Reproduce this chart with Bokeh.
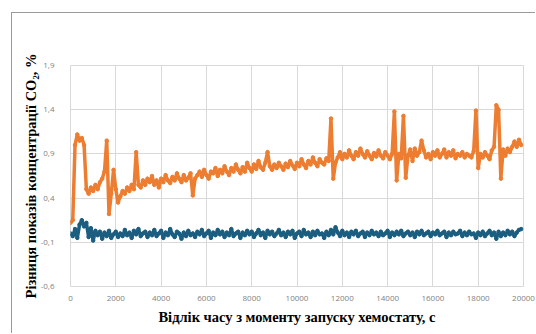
from bokeh.plotting import figure
from bokeh.models import FixedTicker, CustomJSTickFormatter, Range1d
from bokeh.embed import file_html
from bokeh.resources import INLINE

# Sampling step of the recorded series, seconds
STEP_S = 100

# Difference of CO2 readings, chemostat run (orange series), %
co2_diff_a = [
    0.12, 0.15, 1.00, 1.12, 1.05, 1.08, 1.00, 0.50, 0.45, 0.52,
    0.48, 0.55, 0.50, 0.58, 0.62, 0.70, 1.05, 0.22, 0.45, 0.72,
    0.50, 0.35, 0.42, 0.48, 0.45, 0.52, 0.48, 0.55, 0.50, 0.92,
    0.55, 0.52, 0.60, 0.55, 0.62, 0.58, 0.65, 0.55, 0.60, 0.52,
    0.62, 0.58, 0.66, 0.60, 0.57, 0.64, 0.60, 0.68, 0.62, 0.58,
    0.66, 0.60, 0.63, 0.68, 0.43, 0.62, 0.66, 0.70, 0.64, 0.72,
    0.66, 0.62, 0.70, 0.68, 0.74, 0.65, 0.72, 0.68, 0.76, 0.70,
    0.66, 0.74, 0.70, 0.78, 0.72, 0.68, 0.75, 0.70, 0.80, 0.74,
    0.70, 0.78, 0.73, 0.82, 0.75, 0.72, 0.80, 0.92, 0.76, 0.72,
    0.78, 0.74, 0.80, 0.76, 0.72, 0.79, 0.75, 0.82, 0.77, 0.73,
    0.80, 0.76, 0.84, 0.78, 0.74, 0.82, 0.78, 0.86, 0.80, 0.76,
    0.84, 0.80, 0.78, 0.85, 0.82, 1.30, 0.62, 0.80, 0.86, 0.92,
    0.84, 0.90, 0.86, 0.94, 0.88, 0.84, 0.92, 0.88, 0.96, 0.90,
    0.86, 0.93, 0.88, 0.84, 0.91, 0.87, 0.94, 0.88, 0.85, 0.92,
    0.88, 0.84, 0.90, 1.38, 0.60, 0.90, 0.85, 1.33, 0.63, 0.88,
    0.95, 0.82, 0.96, 0.88, 0.92, 1.05, 0.94, 0.86, 0.90, 0.84,
    0.92, 0.88, 0.94, 0.86, 0.90, 0.95, 0.86, 0.92, 0.88, 0.94,
    0.85, 0.90, 0.88, 0.92, 0.86, 0.90, 0.88, 0.86, 0.93, 1.39,
    0.74, 0.90, 0.86, 0.92, 0.88, 0.84, 0.94, 0.98, 1.45, 1.40,
    0.62, 0.95, 0.88, 0.96, 0.92, 0.98, 1.04, 0.98, 1.06, 1.00,
]

# Difference of CO2 readings, reference run (blue series), %
co2_diff_b = [
    0.00, -0.03, 0.05, -0.05, 0.10, 0.15, 0.08, 0.12, -0.04, 0.06,
    -0.08, 0.03, -0.02, 0.02, -0.06, 0.01, -0.03, 0.03, -0.05, -0.01,
    0.02, -0.04, 0.00, -0.03, 0.04, -0.02, 0.01, -0.05, 0.03, -0.01,
    0.05, -0.03, 0.00, 0.02, -0.04, 0.01, -0.02, 0.04, -0.03, 0.00,
    0.03, -0.05, 0.01, -0.02, 0.05, -0.01, -0.04, 0.02, 0.00, -0.06,
    0.01, -0.03, 0.03, -0.02, 0.00, -0.04, 0.02, -0.01, 0.04, -0.03,
    0.00, 0.03, -0.05, 0.01, -0.02, 0.04, -0.01, 0.02, -0.04, 0.01,
    -0.02, 0.05, -0.03, 0.00, 0.02, -0.05, 0.01, -0.02, 0.03, -0.01,
    0.02, -0.04, 0.00, 0.04, -0.02, 0.01, -0.05, 0.03, -0.01, 0.02,
    -0.03, 0.00, 0.04, -0.02, 0.01, -0.04, 0.02, -0.01, 0.03, -0.05,
    0.00, 0.02, -0.03, 0.04, -0.01, 0.01, -0.04, 0.02, -0.02, 0.03,
    -0.01, 0.00, -0.05, 0.02, -0.02, 0.04, -0.01, 0.07, 0.01, -0.03,
    0.03, -0.02, 0.01, -0.04, 0.02, -0.01, 0.03, -0.03, 0.00, 0.02,
    -0.04, 0.01, -0.02, 0.03, -0.01, 0.01, -0.03, 0.02, -0.02, 0.00,
    0.03, -0.04, 0.01, -0.02, 0.02, -0.01, 0.03, -0.03, 0.00, 0.02,
    -0.02, 0.01, -0.04, 0.02, -0.01, 0.03, -0.02, 0.00, 0.02, -0.03,
    0.01, -0.01, 0.03, -0.02, 0.00, 0.02, -0.04, 0.01, -0.02, 0.02,
    -0.01, 0.00, 0.03, -0.03, 0.01, -0.02, 0.02, -0.01, 0.00, -0.05,
    0.01, -0.02, 0.02, -0.03, 0.00, 0.03, -0.02, 0.01, -0.06, 0.02,
    -0.03, 0.01, -0.02, 0.03, -0.01, 0.02, -0.03, 0.01, 0.04, 0.05,
]

time_a = [i * STEP_S for i in range(len(co2_diff_a))]
time_b = [i * STEP_S for i in range(len(co2_diff_b))]

x_ticks = [0, 2000, 4000, 6000, 8000, 10000, 12000, 14000, 16000, 18000, 20000]
y_ticks = [-0.6, -0.1, 0.4, 0.9, 1.4, 1.9]

ORANGE = "#ed7d31"
BLUE = "#1b5e80"
GRID = "#d9d9d9"
TICK_TEXT = "#7f7f7f"
FRAME = "#9a9a9a"

# The canvas sits 11 px right and 12 px down, with a thin border on the
# left and top edges framing the whole chart.
p = figure(
    width=524, height=321,
    output_backend="svg", toolbar_location=None,
    x_range=Range1d(0, 20000), y_range=Range1d(-0.6, 1.9),
    min_border_left=58, min_border_right=13,
    min_border_top=52, min_border_bottom=48,
    background_fill_color="white", border_fill_color="white",
    margin=(12, 0, 0, 11),
    styles={"border-left": f"1px solid {FRAME}", "border-top": f"1px solid {FRAME}"},
)
p.outline_line_color = GRID
p.outline_line_width = 1

p.line(time_a, co2_diff_a, line_color=ORANGE, line_width=3.5, line_join="round")
p.scatter(time_a, co2_diff_a, size=3.5, color=ORANGE)
p.line(time_b, co2_diff_b, line_color=BLUE, line_width=3.5, line_join="round")
p.scatter(time_b, co2_diff_b, size=3.5, color=BLUE)

for ax in (p.xaxis[0], p.yaxis[0]):
    ax.axis_line_color = None
    ax.major_tick_line_color = None
    ax.minor_tick_line_color = None
    ax.major_label_text_color = TICK_TEXT
    ax.major_label_text_font = "Open Sans"
    ax.major_label_text_font_size = "8px"
    ax.axis_label_text_font = "Liberation Serif"
    ax.axis_label_text_font_style = "bold"
    ax.axis_label_text_font_size = "14.5px"
    ax.axis_label_text_color = "black"

p.xaxis.ticker = FixedTicker(ticks=x_ticks)
p.yaxis.ticker = FixedTicker(ticks=y_ticks)
p.yaxis.formatter = CustomJSTickFormatter(code="return tick.toFixed(1).replace('.', ',');")
p.xaxis.formatter = CustomJSTickFormatter(code="return tick.toFixed(0);")

p.xaxis.major_label_standoff = 3
p.yaxis.major_label_standoff = 10
p.xaxis.axis_label_standoff = 5
p.yaxis.axis_label_standoff = -1

p.xaxis.axis_label = "Відлік часу з моменту запуску хемостату, с"
p.yaxis.axis_label = "Різниця показів концентрації CO₂, %"

p.xgrid.ticker = FixedTicker(ticks=x_ticks)
p.ygrid.ticker = FixedTicker(ticks=y_ticks)
p.xgrid.grid_line_color = GRID
p.ygrid.grid_line_color = GRID

open("out.html", "w").write(file_html(p, INLINE))
